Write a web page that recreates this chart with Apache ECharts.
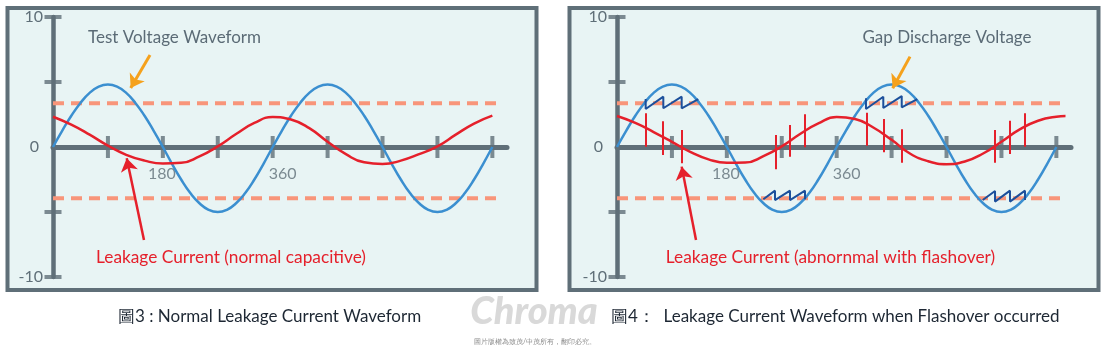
<!DOCTYPE html>
<html>
<head>
<meta charset="utf-8">
<script src="https://cdn.jsdelivr.net/npm/echarts/dist/echarts.min.js"></script>
<style>
html,body{margin:0;padding:0;background:#ffffff;}
#chart{width:1110px;height:350px;}
</style>
</head>
<body>
<div id="chart"></div>
<script>
// ---------- data ----------
const blueAngles = [0,15,30,45,60,75,90,105,120,135,150,165,180,195,210,225,240,255,270,285,300,315,330,345,360,375,390,405,420,435,450,465,480,495,510,525,540,555,570,585,600,615,630,645,660,675,690,705,720];
const testVoltage = [0,1.24,2.4,3.39,4.16,4.64,4.8,4.64,4.16,3.39,2.4,1.24,0,-1.29,-2.5,-3.54,-4.33,-4.83,-5,-4.83,-4.33,-3.54,-2.5,-1.29,0,1.24,2.4,3.39,4.16,4.64,4.8,4.64,4.16,3.39,2.4,1.24,0,-1.29,-2.5,-3.54,-4.33,-4.83,-5,-4.83,-4.33,-3.54,-2.5,-1.29,0];

const normalAngles = [0,30,60,90,120,150,180,210,240,270,300,330,360,390,420,450,480,510,540,570,600,630,660,690,720];
const leakNormal = [2.33,1.72,0.95,0.1,-0.6,-1.05,-1.27,-1.22,-0.72,0.05,1.0,1.85,2.3,2.12,1.45,0.4,-0.55,-1.18,-1.3,-1.05,-0.55,0.05,0.95,1.8,2.41];

const flashAngles = [0,30,60,90,120,150,180,210,240,270,300,330,360,390,420,450,480,510,540,570,600,630,660,690,720,735];
const leakFlash = [2.38,1.85,1.15,0.4,-0.38,-0.95,-1.22,-1.2,-0.7,0.05,1.0,1.82,2.3,2.15,1.5,0.55,-0.5,-1.1,-1.32,-1.12,-0.5,0.4,1.35,2.02,2.33,2.38];

const spikeAngles  = [47.5,74.9,106,260,283.5,308,408.6,436.8,466.2,619.5,644,668.6];
const spikeTops    = [2.59,1.99,1.31,0.92,1.69,2.51,2.64,2.15,1.36,1.31,2.02,2.59];
const spikeBottoms = [0.02,-0.62,-1.25,-1.72,-0.75,-0.02,0.1,-0.41,-1.21,-1.21,-0.54,0.02];

const sawUpper1 = [[47,3.69],[47,2.92],[75.9,3.87],[75.9,2.98],[106,3.87],[106,2.98],[133.2,3.69]];
const sawUpper2 = [[408,3.75],[408,2.92],[436.4,3.87],[436.4,3.0],[466.6,3.92],[466.6,3.05],[492.1,3.69]];
const sawLower1 = [[239.8,-4.02],[258.9,-3.36],[258.9,-4.08],[283.5,-3.36],[283.5,-4.08],[308.1,-3.36],[308.1,-4.02]];
const sawLower2 = [[599.3,-4.08],[619.5,-3.38],[619.5,-4.2],[644,-3.36],[644,-4.2],[668.6,-3.36],[668.6,-4.08]];

const thresholdUpper = 3.36;
const thresholdLower = -3.95;
const thresholdEndLeft = 727;
const thresholdEndRight = 737;

const xTickValues = [90,180,270,360,450,540,630,720];
const xLabelValues = [180,360];
const yTickValues = [10,5,-5,-10];
const yLabelValues = [10,0,-10];

const arrowsLeft = {
  orange: [[159,7.08],[127.3,4.54]],
  red: [[149.1,-7.15],[120.8,-0.87]]
};
const arrowsRight = {
  orange: [[480.2,6.95],[451.8,4.52]],
  red: [[129.5,-7.15],[106,-1.51]]
};

// ---------- style ----------
const GRAY = '#5f6f78';
const BLUE = '#3b8fd0';
const RED = '#e5202b';
const DARKBLUE = '#1c4f9b';
const DASH = '#f8957a';
const ORANGE = '#f5a11c';
const FONT = 'Lato, "Open Sans", sans-serif';

function xAxisFor(g){
  return {
    gridIndex:g, type:'value', min:0, max:744, interval:90,
    axisLine:{onZero:true, lineStyle:{color:GRAY, width:5}},
    axisTick:{show:false}, splitLine:{show:false}, axisLabel:{show:false}
  };
}
function yAxisFor(g){
  return {
    gridIndex:g, type:'value', min:-10, max:10, interval:5,
    axisLine:{show:true, onZero:false, lineStyle:{color:GRAY, width:4.5}},
    axisTick:{show:false}, splitLine:{show:false},
    axisLabel:{
      margin:10, color:GRAY, fontSize:16, fontFamily:FONT,
      formatter:v => yLabelValues.indexOf(v) < 0 ? '' : (v===0 ? '{z|0}' : String(v)),
      rich:{ z:{color:GRAY,fontSize:16,fontFamily:FONT,padding:[0,4,0,0]} }
    }
  };
}

function baseSeries(g, leakAngles, leakVals, thrEnd){
  const s = [];
  s.push({type:'line', xAxisIndex:g, yAxisIndex:g, z:1, silent:true, symbol:'none',
    data:[[0,thresholdUpper],[thrEnd,thresholdUpper]], lineStyle:{color:DASH, width:4, type:[11,7]}});
  s.push({type:'line', xAxisIndex:g, yAxisIndex:g, z:1, silent:true, symbol:'none',
    data:[[0,thresholdLower],[thrEnd,thresholdLower]], lineStyle:{color:DASH, width:4, type:[11,7]}});
  s.push({type:'scatter', xAxisIndex:g, yAxisIndex:g, z:2, silent:true, symbol:'rect', symbolSize:[4,22],
    itemStyle:{color:GRAY}, data:xTickValues.map(v=>[v,0])});
  s.push({type:'scatter', xAxisIndex:g, yAxisIndex:g, z:2, silent:true, symbol:'rect', symbolSize:[17,4],
    itemStyle:{color:GRAY}, data:yTickValues.map(v=>[0,v])});
  // x tick labels (follow the zero line)
  s.push({type:'scatter', xAxisIndex:g, yAxisIndex:g, z:2, silent:true, symbolSize:0,
    data:xLabelValues.map(v=>({value:[v,0], label:{offset:[v===360?10:-1, 27]}})),
    label:{show:true, position:'inside', color:GRAY, fontSize:16, fontFamily:FONT,
      formatter:p => String(p.value[0])}});
  s.push({type:'line', xAxisIndex:g, yAxisIndex:g, z:3, silent:true, symbol:'none', smooth:true,
    data:blueAngles.map((a,i)=>[a,testVoltage[i]]), lineStyle:{color:BLUE, width:2.5}});
  s.push({type:'line', xAxisIndex:g, yAxisIndex:g, z:5, silent:true, symbol:'none', smooth:true,
    data:leakAngles.map((a,i)=>[a,leakVals[i]]), lineStyle:{color:RED, width:2.5}});
  return s;
}
function arrowSeries(g, arrows){
  return [
    {type:'lines', coordinateSystem:'cartesian2d', xAxisIndex:g, yAxisIndex:g, z:6, silent:true,
      symbol:['none','arrow'], symbolSize:13,
      lineStyle:{color:ORANGE, width:3, opacity:1}, data:[{coords:arrows.orange}]},
    {type:'lines', coordinateSystem:'cartesian2d', xAxisIndex:g, yAxisIndex:g, z:6, silent:true,
      symbol:['none','arrow'], symbolSize:13,
      lineStyle:{color:RED, width:2.5, opacity:1}, data:[{coords:arrows.red}]}
  ];
}

const series = [].concat(
  baseSeries(0, normalAngles, leakNormal, thresholdEndLeft),
  arrowSeries(0, arrowsLeft),
  baseSeries(1, flashAngles, leakFlash, thresholdEndRight),
  arrowSeries(1, arrowsRight),
  [sawUpper1, sawUpper2, sawLower1, sawLower2].map(d => ({
    type:'line', xAxisIndex:1, yAxisIndex:1, z:4, silent:true, symbol:'none', smooth:false,
    data:d, lineStyle:{color:DARKBLUE, width:2}
  })),
  [{type:'lines', coordinateSystem:'cartesian2d', xAxisIndex:1, yAxisIndex:1, z:6, silent:true,
    lineStyle:{color:RED, width:2, opacity:1},
    data:spikeAngles.map((a,i)=>({coords:[[a,spikeTops[i]],[a,spikeBottoms[i]]]}))}]
);

function txt(text, x, y, color, size, align, extra){
  return Object.assign({type:'text', z:20, silent:true, style:{
    text:text, x:x, y:y, fill:color, fontSize:size, fontFamily:FONT,
    align:align, verticalAlign:'middle', textAlign:align, textVerticalAlign:'middle'
  }}, extra||{});
}

const chart = echarts.init(document.getElementById('chart'), null, {renderer:'canvas'});
chart.setOption({
  animation:false,
  backgroundColor:'#ffffff',
  grid:[
    {left:53, top:17, width:454, height:260},
    {left:617, top:17, width:454, height:260}
  ],
  xAxis:[xAxisFor(0), xAxisFor(1)],
  yAxis:[yAxisFor(0), yAxisFor(1)],
  series:series,
  graphic:[
    {type:'rect', z:-10, silent:true, shape:{x:7.5, y:8, width:529, height:282},
      style:{fill:'#e8f4f4', stroke:GRAY, lineWidth:4}},
    {type:'rect', z:-10, silent:true, shape:{x:569.5, y:8, width:529, height:282},
      style:{fill:'#e8f4f4', stroke:GRAY, lineWidth:4}},
    txt('Test Voltage Waveform', 174.5, 38, '#5b6b76', 17, 'center'),
    txt('Leakage Current (normal capacitive)', 231, 257, RED, 17.3, 'center'),
    txt('Gap Discharge Voltage', 947, 38, '#5b6b76', 17, 'center'),
    txt('Leakage Current (abnornmal with flashover)', 830.5, 257, RED, 17.3, 'center'),
    txt('圖3 : Normal Leakage Current Waveform', 118, 317, '#1d2733', 17, 'left'),
    txt('圖4：  Leakage Current Waveform when Flashover occurred', 611, 317, '#1d2733', 17, 'left'),
    {type:'text', z:5, silent:true, style:{text:'Chroma', x:534, y:312, fill:'#d9d9d9',
      fontSize:38, fontWeight:900, fontStyle:'italic', fontFamily:FONT,
      align:'center', verticalAlign:'middle', textAlign:'center', textVerticalAlign:'middle'}},
    txt('圖片版權為致茂/中茂所有，翻印必究。', 535, 341.5, '#8a8a8a', 7, 'center')
  ]
});
</script>
</body>
</html>
